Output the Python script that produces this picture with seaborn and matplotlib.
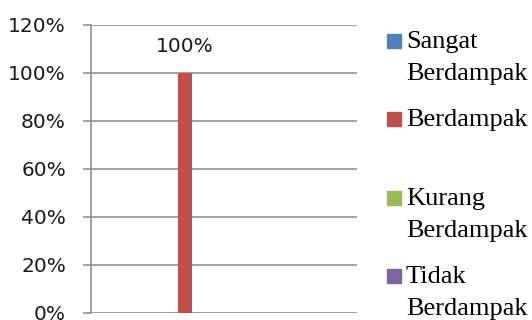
import matplotlib
matplotlib.use("Agg")
import matplotlib.pyplot as plt
import matplotlib.patches as mpatches
import seaborn as sns
import pandas as pd

# ---- data ----
group = [""]
series = ["Sangat Berdampak", "Berdampak", "Kurang Berdampak", "Tidak Berdampak"]
values = [0, 100, 0, 0]
colors = ["#4F81BD", "#C0504D", "#9BBB59", "#8064A2"]
yticks = [0, 20, 40, 60, 80, 100, 120]

df = pd.DataFrame({"group": group * len(series), "series": series, "value": values})

sns.set_theme(style="white")
plt.rcParams["font.family"] = ["DejaVu Sans"]

W, H = 532, 320
fig = plt.figure(figsize=(W / 100, H / 100), dpi=100)
ax = fig.add_axes([91 / W, 1 - 313 / H, (357 - 91) / W, (313 - 25) / H])

grid_c = "#888888"
sns.barplot(data=df, x="group", y="value", hue="series", palette=colors,
            hue_order=series, width=1.173, gap=0.82, legend=False, ax=ax,
            saturation=1, errorbar=None, linewidth=0)

ax.set_xlim(-0.5, 0.5)
ax.set_ylim(0, 120)
ax.set_yticks(yticks)
ax.set_yticklabels([f"{v}%" for v in yticks], fontsize=14.5, color="#1a1a1a")
ax.set_xticks([])
ax.set_xlabel("")
ax.set_ylabel("")
ax.yaxis.grid(True, color=grid_c, linewidth=1.1)
ax.set_axisbelow(True)
for s in ["top", "right", "bottom"]:
    ax.spines[s].set_visible(False)
ax.spines["left"].set_color(grid_c)
ax.spines["left"].set_linewidth(1.1)
ax.tick_params(axis="y", left=True, length=6, width=1.1, color=grid_c, pad=12)

# data label on the non-zero bar
for cont, v in zip(ax.containers, values):
    if v > 0:
        ax.bar_label(cont, labels=[f"{v}%"], padding=12, fontsize=14.5, color="#1a1a1a")

# legend (manual, handle aligned with first text line)
ys = [34, 112, 191, 269]
for name, c, y in zip(series, colors, ys):
    fig.add_artist(mpatches.Rectangle((387 / W, 1 - (y + 14) / H), 14 / W, 14 / H,
                                      transform=fig.transFigure, color=c))
    words = name.split(" ")
    lines = words if len(words) > 1 else [name]
    for i, ln in enumerate(lines):
        fig.text(406 / W, 1 - (y + 14 + i * 32) / H, ln, fontsize=19,
                 family="Liberation Serif", va="baseline", ha="left", color="black")

fig.savefig("out.png", dpi=100)
